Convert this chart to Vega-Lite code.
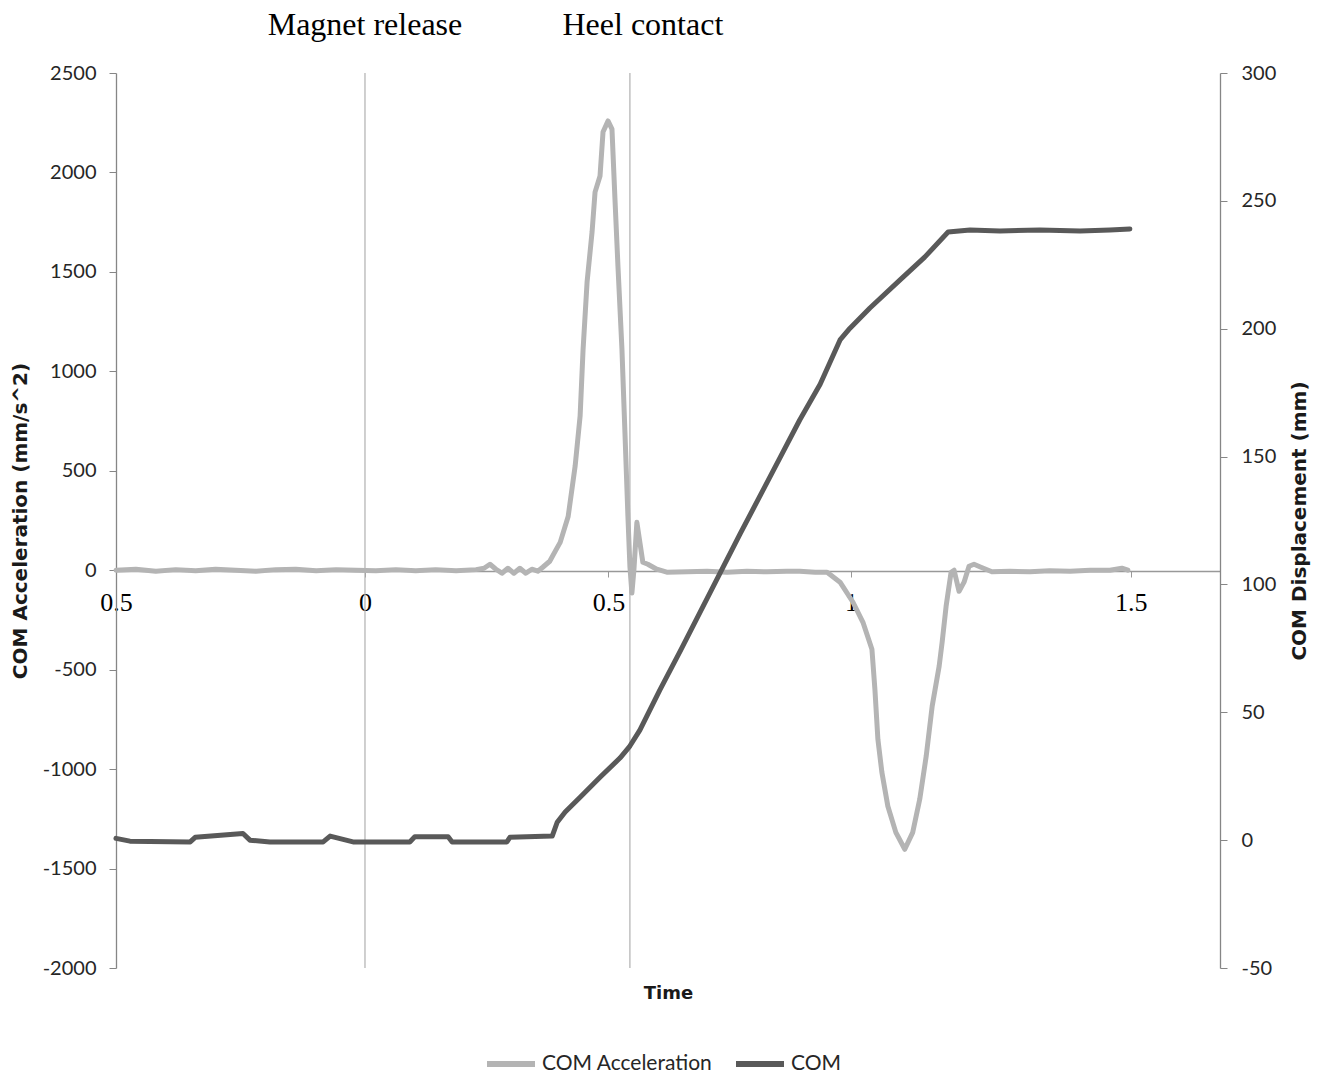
{
  "$schema": "https://vega.github.io/schema/vega-lite/v6.json",
  "width": 1104,
  "height": 895,
  "autosize": {"type": "none"},
  "padding": {"left": 116, "top": 73, "right": 103, "bottom": 110},
  "background": "white",
  "config": {"view": {"stroke": null}, "font": "Lato"},
  "datasets": {
    "acc": [
      {"t": -0.5, "v": 0}, {"t": -0.46, "v": 5}, {"t": -0.42, "v": -5}, {"t": -0.38, "v": 3}, {"t": -0.34, "v": -3},
      {"t": -0.3, "v": 5}, {"t": -0.26, "v": 0}, {"t": -0.219, "v": -5}, {"t": -0.179, "v": 3}, {"t": -0.139, "v": 5},
      {"t": -0.098, "v": -3}, {"t": -0.058, "v": 3}, {"t": -0.018, "v": 0}, {"t": 0.022, "v": -3}, {"t": 0.062, "v": 3},
      {"t": 0.102, "v": -3}, {"t": 0.142, "v": 3}, {"t": 0.183, "v": -3}, {"t": 0.223, "v": 3}, {"t": 0.239, "v": 10},
      {"t": 0.251, "v": 30}, {"t": 0.263, "v": 5}, {"t": 0.275, "v": -15}, {"t": 0.287, "v": 10}, {"t": 0.299, "v": -15},
      {"t": 0.311, "v": 10}, {"t": 0.323, "v": -15}, {"t": 0.335, "v": 5}, {"t": 0.347, "v": -5}, {"t": 0.357, "v": 15},
      {"t": 0.371, "v": 45}, {"t": 0.383, "v": 100}, {"t": 0.392, "v": 140}, {"t": 0.408, "v": 270}, {"t": 0.422, "v": 523},
      {"t": 0.432, "v": 775}, {"t": 0.438, "v": 1112}, {"t": 0.446, "v": 1449}, {"t": 0.456, "v": 1700}, {"t": 0.462, "v": 1901},
      {"t": 0.472, "v": 1982}, {"t": 0.478, "v": 2203}, {"t": 0.488, "v": 2259}, {"t": 0.496, "v": 2218}, {"t": 0.502, "v": 1866},
      {"t": 0.508, "v": 1529}, {"t": 0.516, "v": 1112}, {"t": 0.522, "v": 694}, {"t": 0.528, "v": 272}, {"t": 0.532, "v": 20},
      {"t": 0.536, "v": -115}, {"t": 0.54, "v": 0}, {"t": 0.546, "v": 241}, {"t": 0.552, "v": 140}, {"t": 0.558, "v": 40},
      {"t": 0.568, "v": 30}, {"t": 0.586, "v": 5}, {"t": 0.606, "v": -10}, {"t": 0.647, "v": -8}, {"t": 0.687, "v": -5},
      {"t": 0.727, "v": -10}, {"t": 0.767, "v": -5}, {"t": 0.807, "v": -8}, {"t": 0.847, "v": -5}, {"t": 0.873, "v": -5},
      {"t": 0.904, "v": -10}, {"t": 0.928, "v": -10}, {"t": 0.954, "v": -60}, {"t": 0.98, "v": -161}, {"t": 1.0, "v": -262},
      {"t": 1.018, "v": -397}, {"t": 1.024, "v": -599}, {"t": 1.03, "v": -850}, {"t": 1.038, "v": -1016}, {"t": 1.05, "v": -1187},
      {"t": 1.066, "v": -1318}, {"t": 1.084, "v": -1403}, {"t": 1.1, "v": -1318}, {"t": 1.114, "v": -1152}, {"t": 1.127, "v": -935},
      {"t": 1.139, "v": -684}, {"t": 1.153, "v": -483}, {"t": 1.159, "v": -362}, {"t": 1.167, "v": -181}, {"t": 1.177, "v": -10},
      {"t": 1.183, "v": 0}, {"t": 1.193, "v": -106}, {"t": 1.203, "v": -60}, {"t": 1.213, "v": 20}, {"t": 1.223, "v": 30},
      {"t": 1.237, "v": 15}, {"t": 1.259, "v": -8}, {"t": 1.295, "v": -5}, {"t": 1.335, "v": -8}, {"t": 1.375, "v": -3},
      {"t": 1.416, "v": -5}, {"t": 1.456, "v": 0}, {"t": 1.496, "v": 0}, {"t": 1.52, "v": 10}, {"t": 1.532, "v": 0}
    ],
    "com": [
      {"t": -0.5, "v": 0.7}, {"t": -0.472, "v": -0.4}, {"t": -0.351, "v": -0.7}, {"t": -0.341, "v": 1.1}, {"t": -0.245, "v": 2.6},
      {"t": -0.231, "v": 0}, {"t": -0.191, "v": -0.7}, {"t": -0.084, "v": -0.7}, {"t": -0.07, "v": 1.6}, {"t": -0.024, "v": -0.7},
      {"t": 0.09, "v": -0.7}, {"t": 0.1, "v": 1.3}, {"t": 0.167, "v": 1.3}, {"t": 0.175, "v": -0.7}, {"t": 0.285, "v": -0.7},
      {"t": 0.291, "v": 1.1}, {"t": 0.376, "v": 1.6}, {"t": 0.386, "v": 7.0}, {"t": 0.402, "v": 11.0}, {"t": 0.432, "v": 16.8},
      {"t": 0.472, "v": 24.6}, {"t": 0.512, "v": 32.1}, {"t": 0.532, "v": 36.8}, {"t": 0.552, "v": 43.0}, {"t": 0.592, "v": 58.7},
      {"t": 0.633, "v": 73.9}, {"t": 0.673, "v": 89.2}, {"t": 0.713, "v": 104.4}, {"t": 0.753, "v": 119.7}, {"t": 0.793, "v": 134.5},
      {"t": 0.833, "v": 149.4}, {"t": 0.873, "v": 164.3}, {"t": 0.914, "v": 178.3}, {"t": 0.954, "v": 195.6}, {"t": 0.974, "v": 200.2},
      {"t": 1.014, "v": 208.1}, {"t": 1.074, "v": 219.0}, {"t": 1.124, "v": 228.0}, {"t": 1.171, "v": 237.8}, {"t": 1.215, "v": 238.6},
      {"t": 1.275, "v": 238.2}, {"t": 1.355, "v": 238.6}, {"t": 1.436, "v": 238.2}, {"t": 1.496, "v": 238.6}, {"t": 1.536, "v": 239.0}
    ],
    "events": [
      {"t": 0, "event": "Magnet release"},
      {"t": 0.532, "event": "Heel contact"}
    ]
  },
  "layer": [
    {
      "layer": [
        {
          "data": {"name": "events"},
          "mark": {"type": "rule", "color": "#b0b0b0", "strokeWidth": 1.2},
          "encoding": {"x": {"field": "t", "type": "quantitative"}}
        },
        {
          "data": {"name": "events"},
          "transform": [{"filter": "datum.event == 'Magnet release'"}],
          "mark": {"type": "text", "font": "Liberation Serif", "fontSize": 32, "color": "black", "baseline": "middle", "dy": -48},
          "encoding": {
            "x": {"field": "t", "type": "quantitative"},
            "y": {"datum": 2500, "type": "quantitative"},
            "text": {"field": "event"}
          }
        },
        {
          "data": {"name": "events"},
          "transform": [{"filter": "datum.event == 'Heel contact'"}],
          "mark": {"type": "text", "font": "Liberation Serif", "fontSize": 32, "color": "black", "baseline": "middle", "dy": -48, "dx": 13},
          "encoding": {
            "x": {"field": "t", "type": "quantitative"},
            "y": {"datum": 2500, "type": "quantitative"},
            "text": {"field": "event"}
          }
        },
        {
          "data": {"name": "acc"},
          "mark": {"type": "line", "strokeWidth": 5, "strokeJoin": "round", "strokeCap": "round"},
          "encoding": {
            "x": {
              "field": "t", "type": "quantitative",
              "scale": {"domain": [-0.5, 1.717], "nice": false, "zero": false},
              "axis": {
                "orient": "bottom", "offset": -397, "title": null,
                "values": [-0.5, 0, 0.489, 0.976, 1.538],
                "labelExpr": "datum.value < -0.25 ? '0.5' : datum.value < 0.25 ? '0' : datum.value < 0.75 ? '0.5' : datum.value < 1.25 ? '1' : '1.5'",
                "labelFont": "Liberation Serif", "labelFontSize": 26, "labelColor": "black",
                "labelPadding": 12, "labelOverlap": false, "labelFlush": false, "labelBound": false,
                "tickSize": 6, "tickColor": "#999999", "domainColor": "#999999", "domainWidth": 1.3, "grid": false
              }
            },
            "y": {
              "field": "v", "type": "quantitative",
              "scale": {"domain": [-2000, 2500], "nice": false, "zero": false},
              "axis": {
                "orient": "left", "title": "COM Acceleration (mm/s^2)",
                "values": [-2000, -1500, -1000, -500, 0, 500, 1000, 1500, 2000, 2500],
                "labelExpr": "toString(datum.value)",
                "grid": false, "domainColor": "#868686", "tickColor": "#868686", "tickSize": 7, "domainWidth": 1.3,
                "labelFont": "Lato", "labelFontSize": 20, "labelColor": "#262626", "labelPadding": 13,
                "titleFont": "DejaVu Sans", "titleFontSize": 20, "titleFontWeight": "bold", "titleColor": "#1a1a1a", "titlePadding": 12
              }
            },
            "color": {
              "datum": "COM Acceleration", "type": "nominal",
              "scale": {"domain": ["COM Acceleration", "COM"], "range": ["#b4b4b4", "#595959"]},
              "legend": {
                "orient": "none", "legendX": 368, "legendY": 964, "direction": "horizontal", "title": null,
                "symbolType": "stroke", "symbolSize": 2304, "symbolStrokeWidth": 6, "labelLimit": 400,
                "labelFont": "Lato", "labelFontSize": 21, "labelColor": "#262626", "columnPadding": 11, "labelOffset": 4
              }
            }
          }
        }
      ]
    },
    {
      "data": {"name": "com"},
      "mark": {"type": "line", "strokeWidth": 5, "strokeJoin": "round", "strokeCap": "round"},
      "encoding": {
        "x": {
          "field": "t", "type": "quantitative",
          "axis": {"orient": "bottom", "title": "Time", "labels": false, "ticks": false, "domain": false, "grid": false,
                   "titleFont": "DejaVu Sans", "titleFontSize": 18, "titleFontWeight": "bold", "titleColor": "#1a1a1a", "titlePadding": 16}
        },
        "y": {
          "field": "v", "type": "quantitative",
          "scale": {"domain": [-50, 300], "nice": false, "zero": false},
          "axis": {
            "orient": "right", "title": "COM Displacement (mm)", "titleAngle": 270, "titleBaseline": "top",
            "values": [-50, 0, 50, 100, 150, 200, 250, 300],
            "labelExpr": "toString(datum.value)",
            "grid": false, "domainColor": "#868686", "tickColor": "#868686", "tickSize": 7, "domainWidth": 1.3,
            "labelFont": "Lato", "labelFontSize": 20, "labelColor": "#262626", "labelPadding": 14,
            "titleFont": "DejaVu Sans", "titleFontSize": 20, "titleFontWeight": "bold", "titleColor": "#1a1a1a", "titlePadding": 14
          }
        },
        "color": {"datum": "COM", "type": "nominal"}
      }
    }
  ],
  "resolve": {"scale": {"y": "independent"}, "axis": {"x": "independent"}}
}
